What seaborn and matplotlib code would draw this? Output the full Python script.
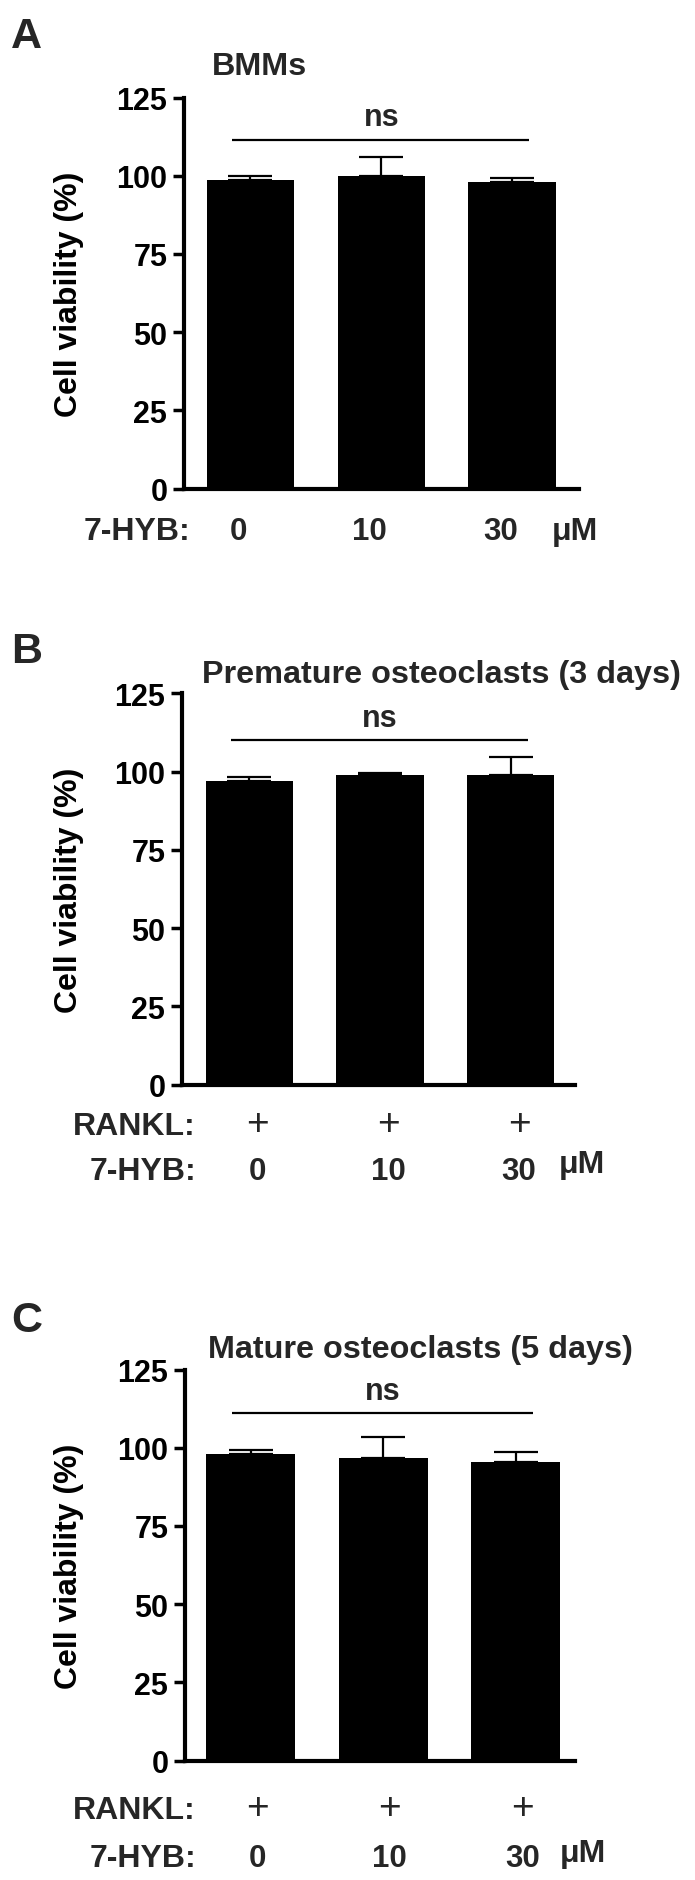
import numpy as np
import pandas as pd
import matplotlib
matplotlib.use("Agg")
import matplotlib.pyplot as plt
import matplotlib.transforms as mtransforms
import seaborn as sns

# ---------------- data ----------------
panel_letters = ["A", "B", "C"]
panel_titles = ["BMMs", "Premature osteoclasts (3 days)", "Mature osteoclasts (5 days)"]
doses = ["0", "10", "30"]
dose_unit = "μM"
treatment_label = "7-HYB:"
rankl_label = "RANKL:"
rankl_marks = ["+", "+", "+"]
viability_A = [98.7, 100.0, 98.0]
sd_A = [1.2, 6.1, 1.2]
viability_B = [96.9, 98.9, 98.9]
sd_B = [1.3, 0.5, 5.9]
viability_C = [98.1, 96.8, 95.4]
sd_C = [1.2, 6.6, 3.3]
ns_level = [111.5, 110.0, 111.0]
ns_text = "ns"
y_ticks = [0, 25, 50, 75, 100, 125]
y_label = "Cell viability (%)"

means_all = [viability_A, viability_B, viability_C]
sds_all = [sd_A, sd_B, sd_C]
show_rankl = [False, True, True]

# ---------------- style ----------------
sns.set_style("ticks")
plt.rcParams["font.family"] = ["Liberation Sans", "DejaVu Sans"]
plt.rcParams["font.weight"] = "bold"

W, H = 695, 1881
fig = plt.figure(figsize=(W / 100, H / 100), dpi=100)


def rect(l, t, r, b):
    return [l / W, 1 - b / H, (r - l) / W, (b - t) / H]


layouts = [
    dict(rect=(184, 98.5, 579, 489.5), xlim=(-0.508, 2.51), letter_base=47.6,
         title=(211.7, 75), hyb_y=540, rankl_y=None, off=-0.09,
         unit=(574.6, 540), row_right=190),
    dict(rect=(182, 694.3, 574.6, 1085.7), xlim=(-0.516, 2.49), letter_base=663,
         title=(201.7, 683.3), hyb_y=1180, rankl_y=1135, off=0.065,
         unit=(582, 1173), row_right=196),
    dict(rect=(185, 1370.5, 574.6, 1761.7), xlim=(-0.494, 2.444), letter_base=1332,
         title=(208.5, 1358), hyb_y=1866.7, rankl_y=1819.3, off=0.05,
         unit=(583, 1862), row_right=196),
]

for k in range(3):
    L = layouts[k]
    means = means_all[k]
    sds = sds_all[k]
    ax = fig.add_axes(rect(*L["rect"]))
    df = pd.DataFrame({"dose": doses, "viability": means})
    sns.barplot(data=df, x="dose", y="viability", order=doses, color="black",
                saturation=1, width=0.67, errorbar=None, edgecolor="black",
                linewidth=0, ax=ax, zorder=2)
    xpos = np.arange(len(doses))
    ax.errorbar(xpos, means, yerr=[np.zeros(len(sds)), sds], fmt="none",
                ecolor="black", elinewidth=1.6, capsize=16, capthick=1.6, zorder=3)

    ax.set_ylim(0, 125)
    ax.set_xlim(*L["xlim"])
    ax.set_yticks(y_ticks)
    ax.set_xticks([])
    ax.set_xlabel("")
    sns.despine(ax=ax)
    for s in ["left", "bottom"]:
        ax.spines[s].set_linewidth(3)
        ax.spines[s].set_color("black")
    ax.tick_params(axis="y", length=8, width=2.5, labelsize=22, pad=4, colors="black")
    for t in ax.get_yticklabels():
        t.set_fontweight("bold")

    ax.set_ylabel(y_label, fontsize=23, fontweight="bold", color="black")
    ax.yaxis.set_label_coords((69 - L["rect"][0]) / (L["rect"][2] - L["rect"][0]), 0.5)
    ax.yaxis.label.set_verticalalignment("center")

    # ns bracket
    ax.plot([-0.14, 2.13], [ns_level[k], ns_level[k]], color="black", lw=1.6,
            solid_capstyle="butt", zorder=3)
    ax.text(1, ns_level[k] + 4.6, ns_text, ha="center", va="baseline",
            fontsize=22, fontweight="bold")

    # panel letter and title
    fig.text(11 / W, 1 - L["letter_base"] / H, panel_letters[k], fontsize=31,
             fontweight="bold", ha="left", va="baseline")
    fig.text(L["title"][0] / W, 1 - L["title"][1] / H, panel_titles[k], fontsize=23.3,
             fontweight="bold", ha="left", va="baseline")

    # bottom rows
    trans = mtransforms.blended_transform_factory(ax.transData, fig.transFigure)
    for i, d in enumerate(doses):
        ax.text(i + L["off"], 1 - L["hyb_y"] / H, d, transform=trans, ha="center",
                va="baseline", fontsize=22.5, fontweight="bold")
    fig.text(L["row_right"] / W, 1 - L["hyb_y"] / H, treatment_label, ha="right",
             va="baseline", fontsize=23, fontweight="bold")
    fig.text(L["unit"][0] / W, 1 - L["unit"][1] / H, dose_unit, ha="center",
             va="baseline", fontsize=23, fontweight="bold")
    if show_rankl[k]:
        fig.text(L["row_right"] / W, 1 - L["rankl_y"] / H, rankl_label, ha="right",
                 va="baseline", fontsize=23, fontweight="bold")
        for i, m in enumerate(rankl_marks):
            ax.text(i + L["off"], 1 - L["rankl_y"] / H, m, transform=trans,
                    ha="center", va="baseline", fontsize=28, fontweight="normal")

fig.savefig("out.png", dpi=100)
